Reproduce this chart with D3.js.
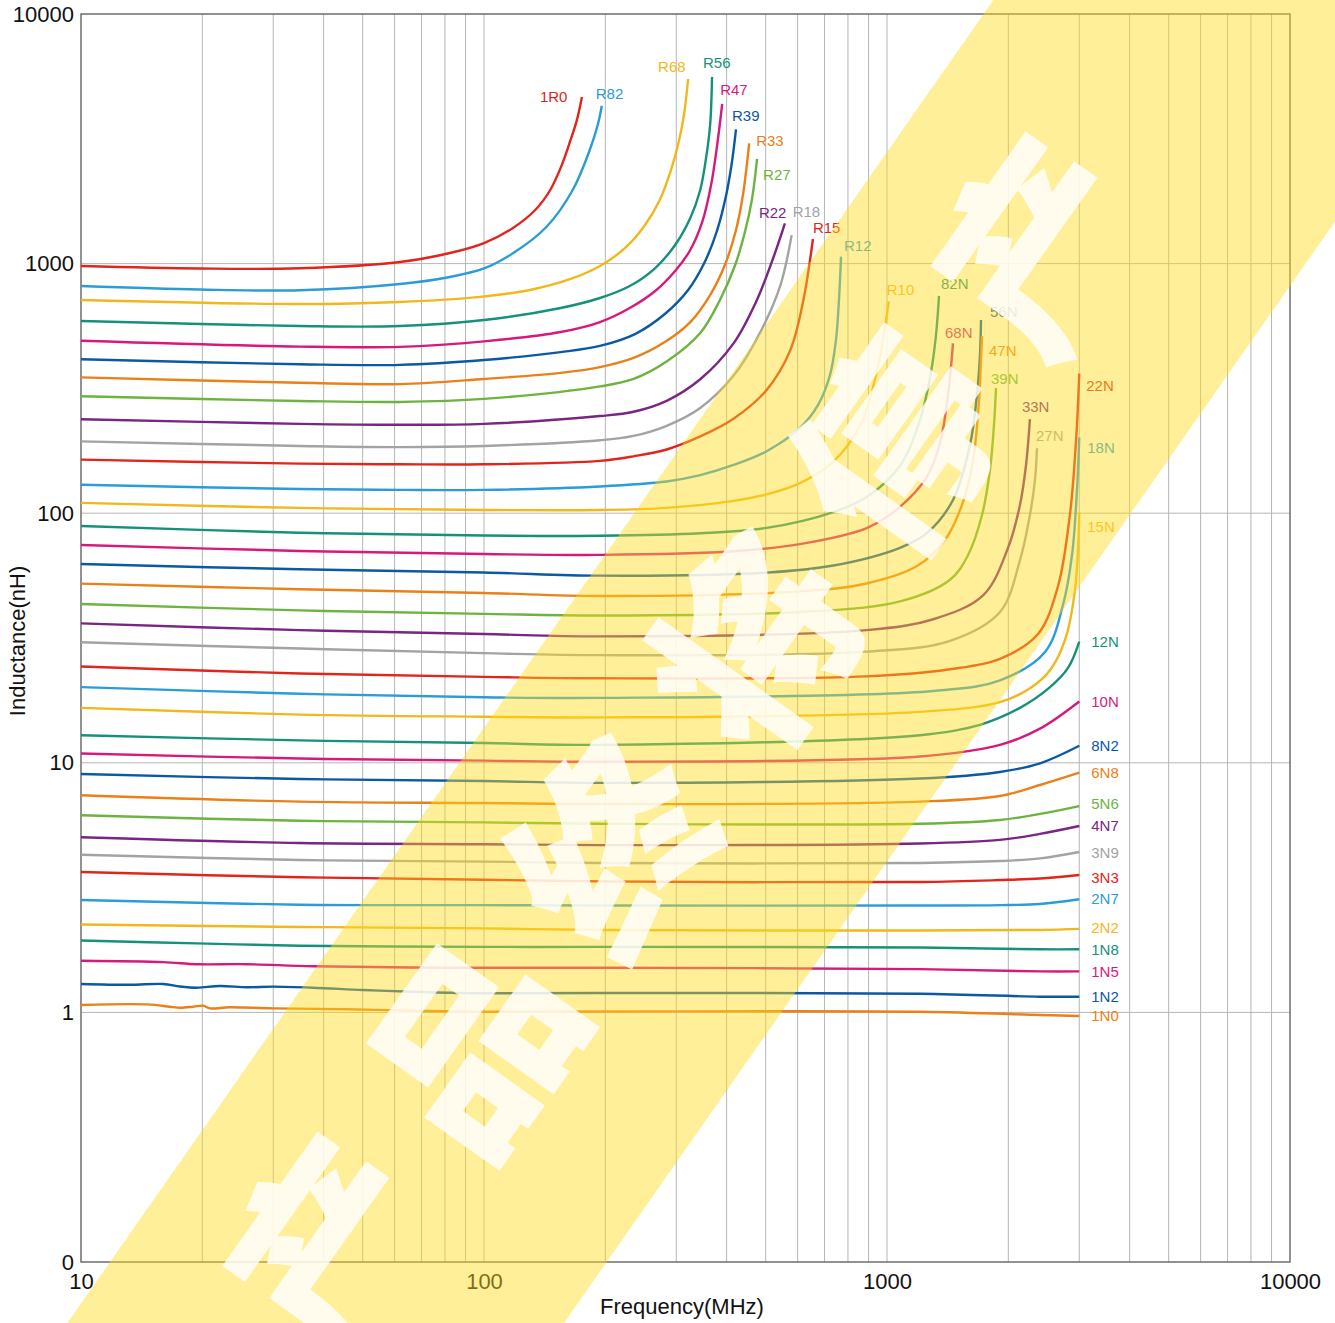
<!DOCTYPE html>
<html>
<head>
<meta charset="utf-8">
<script src="https://cdn.jsdelivr.net/npm/d3@7"></script>
<style>
  body { margin: 0; background: #fff; }
  svg { display: block; }
</style>
</head>
<body>
<svg id="chart"></svg>
<script>
// Tick values and labels
const xTicks = [10, 100, 1000, 10000];
const xTickLabels = ["10", "100", "1000", "10000"];
const yTicks = [0.1, 1, 10, 100, 1000, 10000];
const yTickLabels = ["0", "1", "10", "100", "1000", "10000"];

// Series names (part codes), in drawing order
const seriesNames = ["1R0", "R82", "R68", "R56", "R47", "R39", "R33", "R27", "R22", "R18",
  "R15", "R12", "R10", "82N", "68N", "56N", "47N", "39N", "33N", "27N",
  "22N", "18N", "15N", "12N", "10N", "8N2", "6N8", "5N6", "4N7", "3N9",
  "3N3", "2N7", "2N2", "1N8", "1N5", "1N2", "1N0"];

// [frequency MHz, inductance nH]
const s1R0 = [[10,978],[19.7,956],[34.9,958],[61.9,1015],[82.3,1103],[100,1209],[118,1389],[134,1639],[146,1972],[156,2483],[164,3128],[170,3758],[175,4650]];
const sR82 = [[10,813],[19.7,787],[34.9,782],[61.9,828],[82.3,884],[100,956],[118,1100],[143,1405],[166,1972],[183,2852],[192,3650],[196,4290]];
const sR68 = [[10,715],[34.9,689],[61.9,702],[97.7,736],[130,784],[164,868],[194,978],[224,1155],[251,1428],[273,1798],[291,2371],[305,3128],[314,4012],[321,5490]];
const sR56 = [[10,589],[34.9,562],[61.9,562],[100,594],[155,664],[194,728],[230,813],[266,960],[298,1187],[325,1523],[344,1972],[355,2599],[364,3592],[368,5590]];
const sR47 = [[10,491],[34.9,465],[61.9,464],[100,488],[155,532],[194,583],[230,664],[266,777],[298,934],[325,1134],[348,1468],[366,2065],[379,2988],[390,4360]];
const sR39 = [[10,414],[34.9,395],[61.9,393],[100,411],[155,442],[194,468],[237,522],[281,628],[321,784],[353,1015],[379,1363],[399,1883],[412,2529],[422,3450]];
const sR33 = [[10,350],[34.9,333],[61.9,329],[100,345],[155,365],[194,385],[235,419],[281,485],[325,583],[364,748],[396,987],[422,1363],[439,1883],[455,3035]];
const sR27 = [[10,294],[34.9,281.5],[61.9,279],[100,287],[194,322],[235,345],[285,407],[344,527],[385,715],[420,987],[444,1338],[462,1798],[476,2625]];
const sR22 = [[10,238],[34.9,228],[61.9,226],[100,228],[194,245],[235,255],[284,282],[344,344],[416,479],[475,712],[522,1053],[558,1450]];
const sR18 = [[10,194],[34.9,186],[61.9,184],[100,186],[194,196],[235,204],[284,224],[344,264],[416,355],[484,528],[543,812],[580,1300]];
const sR15 = [[10,164],[34.9,158],[61.9,157],[100,157],[194,162],[235,169],[284,180],[344,203],[416,239],[503,312],[575,448],[620,712],[655,1255]];
const sR12 = [[10,130],[34.9,125],[61.9,124],[100,124],[194,128],[284,134],[344,142],[416,156],[504,177.5],[608,219.5],[674,271],[722,358],[747,494],[760,715],[769,1066]];
const sR10 = [[10,110],[34.9,105],[100,103],[194,103],[284,105],[416,112],[503,119],[608,132],[736,161],[857,224],[943,367],[1010,705]];
const s82N = [[10,88.9],[34.9,83.5],[100,81.4],[194,81.2],[344,83.1],[503,87.3],[736,101],[890,116],[1077,155],[1207,236],[1286,368],[1323,517],[1346,742]];
const s68N = [[10,74.6],[34.9,70.6],[100,68.6],[194,68.1],[416,70.4],[608,75.2],[890,87.2],[1077,106],[1257,140],[1354,191],[1417,298],[1458,479]];
const s56N = [[10,62.6],[34.9,59.6],[100,57.9],[194,56.2],[503,57.8],[736,61.7],[1077,72.7],[1257,83.3],[1458,113],[1607,188],[1672,298],[1701,430],[1711,594]];
const s47N = [[10,52.2],[34.9,49.6],[100,47.9],[194,46.6],[608,48.6],[890,52.3],[1187,61.4],[1393,78.1],[1535,108],[1635,163],[1692,284],[1711,411],[1721,513]];
const s39N = [[10,43.3],[34.9,40.8],[100,39.5],[194,38.9],[608,40.2],[1077,44.3],[1433,54.1],[1589,68],[1721,98.3],[1801,149],[1843,226],[1864,317]];
const s33N = [[10,36.2],[34.9,34.0],[100,32.8],[194,32.1],[890,34.0],[1303,37.6],[1734,47],[1996,72.5],[2138,108],[2213,156],[2263,238]];
const s27N = [[10,30.4],[34.9,28.7],[100,27.5],[194,27.0],[890,27.9],[1433,30.8],[1907,40.2],[2138,64.9],[2263,98.4],[2329,136],[2356,182]];
const s22N = [[10,24.3],[34.9,22.8],[100,22.1],[194,21.8],[890,22.2],[1433,23.7],[1907,26.1],[2370,32.8],[2657,51.1],[2845,99.3],[2944,193],[3000,363]];
const s18N = [[10,20.1],[34.9,18.9],[100,18.3],[194,18.2],[1303,19.4],[1907,21.4],[2467,27.8],[2733,42.9],[2878,68],[2961,124],[3000,201]];
const s15N = [[10,16.6],[34.9,15.6],[100,15.3],[194,15.2],[1207,16.0],[1907,17.5],[2264,19.9],[2538,23.5],[2764,31.0],[2927,49.2],[3000,100.7]];
const s12N = [[10,12.9],[34.9,12.3],[100,12.0],[194,11.8],[1207,12.9],[1701,14.2],[2138,16.6],[2538,20.1],[2813,24],[3000,30.6]];
const s10N = [[10,10.9],[34.9,10.4],[100,10.2],[194,10.1],[1207,10.6],[1907,11.8],[2397,13.7],[3000,17.6]];
const s8N2 = [[10,9.02],[34.9,8.61],[100,8.45],[194,8.31],[1207,8.65],[1907,9.19],[2397,9.95],[3000,11.7]];
const s6N8 = [[10,7.41],[34.9,6.99],[100,6.9],[194,6.83],[1207,6.99],[1907,7.36],[2397,8.15],[3000,9.13]];
const s5N6 = [[10,6.16],[34.9,5.86],[100,5.77],[194,5.70],[1207,5.70],[1907,5.90],[2397,6.24],[3000,6.71]];
const s4N7 = [[10,5.03],[34.9,4.77],[100,4.72],[194,4.68],[1207,4.75],[1907,4.91],[2397,5.19],[3000,5.58]];
const s3N9 = [[10,4.28],[34.9,4.08],[100,4.02],[194,3.97],[1207,3.97],[1907,4.04],[2397,4.14],[3000,4.39]];
const s3N3 = [[10,3.65],[34.9,3.48],[100,3.40],[194,3.35],[1207,3.33],[1907,3.39],[2397,3.44],[3000,3.55]];
const s2N7 = [[10,2.82],[34.9,2.70],[100,2.69],[194,2.68],[1207,2.68],[1907,2.69],[2397,2.72],[3000,2.84]];
const s2N2 = [[10,2.25],[34.9,2.20],[100,2.17],[194,2.14],[1207,2.13],[2397,2.14],[3000,2.16]];
const s1N8 = [[10,1.94],[19.4,1.89],[34.9,1.85],[97.7,1.83],[194,1.83],[1207,1.82],[2397,1.79],[3000,1.79]];
const s1N5 = [[10,1.61],[16,1.59],[19.4,1.56],[25.8,1.56],[37.6,1.53],[80.9,1.51],[194,1.51],[1207,1.49],[2397,1.46],[3000,1.46]];
const s1N2 = [[10,1.30],[13.2,1.29],[16,1.30],[17.6,1.27],[19.4,1.256],[22.1,1.276],[25.8,1.261],[29.9,1.268],[37.6,1.256],[50.1,1.229],[66.6,1.21],[80.9,1.199],[97.7,1.193],[194,1.196],[1207,1.188],[2397,1.156],[3000,1.156]];
const s1N0 = [[10,1.071],[14.6,1.077],[16.6,1.054],[17.6,1.044],[19,1.054],[20.1,1.064],[20.9,1.038],[23.4,1.048],[29.9,1.038],[45.7,1.029],[66.6,1.016],[97.7,1.006],[194,1.008],[1207,1.006],[2397,0.976],[3000,0.967]];

const seriesValues = [s1R0, sR82, sR68, sR56, sR47, sR39, sR33, sR27, sR22, sR18,
  sR15, sR12, sR10, s82N, s68N, s56N, s47N, s39N, s33N, s27N,
  s22N, s18N, s15N, s12N, s10N, s8N2, s6N8, s5N6, s4N7, s3N9,
  s3N3, s2N7, s2N2, s1N8, s1N5, s1N2, s1N0];

// colour cycle used by the chart
const palette = ["#e1251b", "#2b9cd8", "#f2b71d", "#15917a", "#d7197b",
  "#0b58a5", "#eb8018", "#6db33f", "#7a2483", "#a3a3a3"];

// label placement relative to the end of each curve (px)
const labelOffsets = [[-42,-1],[-6,-12],[-30,-13],[-9,-15],[-2,-14],[-4,-14],[7,-3],[6,16],[-26,-11],[1,-24],
  [0,-11],[3,-11],[-2,-12],[2,-12],[-8,-11],[9,-9],[7,15],[-5,-10],[-8,-13],[-1,-13],
  [7,12],[8,10],[8,14],[12,0],[12,0],[12,0],[12,0],[12,-3],[12,-1],[12,0],
  [12,2],[12,-1],[12,-1],[12,0],[12,0],[12,0],[12,-1]];

const width = 1335, height = 1323;
const margin = { top: 14, right: 45, bottom: 61, left: 81 };
const font = "'Liberation Sans', Arial, Helvetica, sans-serif";

const svg = d3.select("#chart").attr("width", width).attr("height", height);

const xScale = d3.scaleLog().domain([10, 10000]).range([margin.left, width - margin.right]);
const yScale = d3.scaleLog().domain([0.1, 10000]).range([height - margin.bottom, margin.top]);

// Grid
const gridX = [];
for (let d = 10; d < 10000; d *= 10) {
  for (let k = 2; k <= 10; k++) {
    if (d * k < 10000) gridX.push(d * k);
  }
}
svg.append("g")
  .selectAll("line")
  .data(gridX)
  .join("line")
  .attr("x1", d => xScale(d)).attr("x2", d => xScale(d))
  .attr("y1", margin.top).attr("y2", height - margin.bottom)
  .attr("stroke", "#b5b5b5")
  .attr("stroke-width", 1);

svg.append("g")
  .selectAll("line")
  .data([1, 10, 100, 1000])
  .join("line")
  .attr("x1", margin.left).attr("x2", width - margin.right)
  .attr("y1", d => yScale(d)).attr("y2", d => yScale(d))
  .attr("stroke", "#b5b5b5")
  .attr("stroke-width", 1);

// Frame
svg.append("rect")
  .attr("x", margin.left).attr("y", margin.top)
  .attr("width", width - margin.left - margin.right)
  .attr("height", height - margin.top - margin.bottom)
  .attr("fill", "none")
  .attr("stroke", "#6e6e6e")
  .attr("stroke-width", 1.5);

// Axes
svg.append("g")
  .attr("transform", `translate(0, ${height - margin.bottom})`)
  .call(d3.axisBottom(xScale).tickValues(xTicks).tickFormat((d, i) => xTickLabels[i]).tickSize(0).tickPadding(11))
  .call(g => g.select(".domain").remove())
  .attr("font-family", font)
  .attr("font-size", 22)
  .selectAll("text").attr("fill", "#111");

svg.append("g")
  .attr("transform", `translate(${margin.left}, 0)`)
  .call(d3.axisLeft(yScale).tickValues(yTicks).tickFormat((d, i) => yTickLabels[i]).tickSize(0).tickPadding(7))
  .call(g => g.select(".domain").remove())
  .attr("font-family", font)
  .attr("font-size", 22)
  .selectAll("text").attr("fill", "#111");

// Axis labels
svg.append("text")
  .attr("x", 682).attr("y", height - 9)
  .attr("text-anchor", "middle")
  .attr("font-family", font).attr("font-size", 22).attr("fill", "#111")
  .text("Frequency(MHz)");

svg.append("text")
  .attr("transform", `translate(25, ${(margin.top + height - margin.bottom) / 2 + 3}) rotate(-90)`)
  .attr("text-anchor", "middle")
  .attr("font-family", font).attr("font-size", 22).attr("fill", "#111")
  .text("Inductance(nH)");

// Curves
const series = seriesNames.map((name, i) => ({ name, values: seriesValues[i], color: palette[i % palette.length], off: labelOffsets[i] }));

const line = d3.line()
  .x(d => xScale(d[0]))
  .y(d => yScale(d[1]))
  .curve(d3.curveCatmullRom.alpha(0.5));

svg.append("g")
  .selectAll("path")
  .data(series)
  .join("path")
  .attr("d", d => line(d.values))
  .attr("fill", "none")
  .attr("stroke", d => d.color)
  .attr("stroke-width", 2.4)
  .attr("stroke-linejoin", "round");

svg.append("g")
  .selectAll("text")
  .data(series)
  .join("text")
  .attr("x", d => xScale(d.values[d.values.length - 1][0]) + d.off[0])
  .attr("y", d => yScale(d.values[d.values.length - 1][1]) + d.off[1])
  .attr("dominant-baseline", "central")
  .attr("font-family", font)
  .attr("font-size", 15)
  .attr("fill", d => d.color)
  .text(d => d.name);

// Watermark band
const slope = 0.7;
const bandY0 = height - margin.bottom;
const bandLeft = y => 110 + slope * (bandY0 - y);
const bandRight = y => 606.7 + slope * (bandY0 - y);
svg.append("polygon")
  .attr("points", [[bandLeft(height), height], [bandLeft(0), 0], [bandRight(0), 0], [bandRight(height), height]].join(" "))
  .attr("fill", "rgb(255,220,28)")
  .attr("fill-opacity", 0.45);

const markText = "产品终将停产".split("");
const p0 = [322, 1238], p1 = [1030, 238];
const angle = Math.atan2(p1[1] - p0[1], p1[0] - p0[0]) * 180 / Math.PI;
svg.append("g")
  .selectAll("text")
  .data(markText)
  .join("text")
  .attr("transform", (d, i) => {
    const t = i / (markText.length - 1);
    const cx = p0[0] + t * (p1[0] - p0[0]);
    const cy = p0[1] + t * (p1[1] - p0[1]);
    return `translate(${cx}, ${cy}) rotate(${angle})`;
  })
  .attr("text-anchor", "middle")
  .attr("dominant-baseline", "central")
  .attr("font-family", "'Noto Sans CJK SC', sans-serif")
  .attr("font-weight", 900)
  .attr("font-size", 200)
  .attr("fill", "#fff")
  .attr("fill-opacity", 0.82)
  .text(d => d);
</script>
</body>
</html>
